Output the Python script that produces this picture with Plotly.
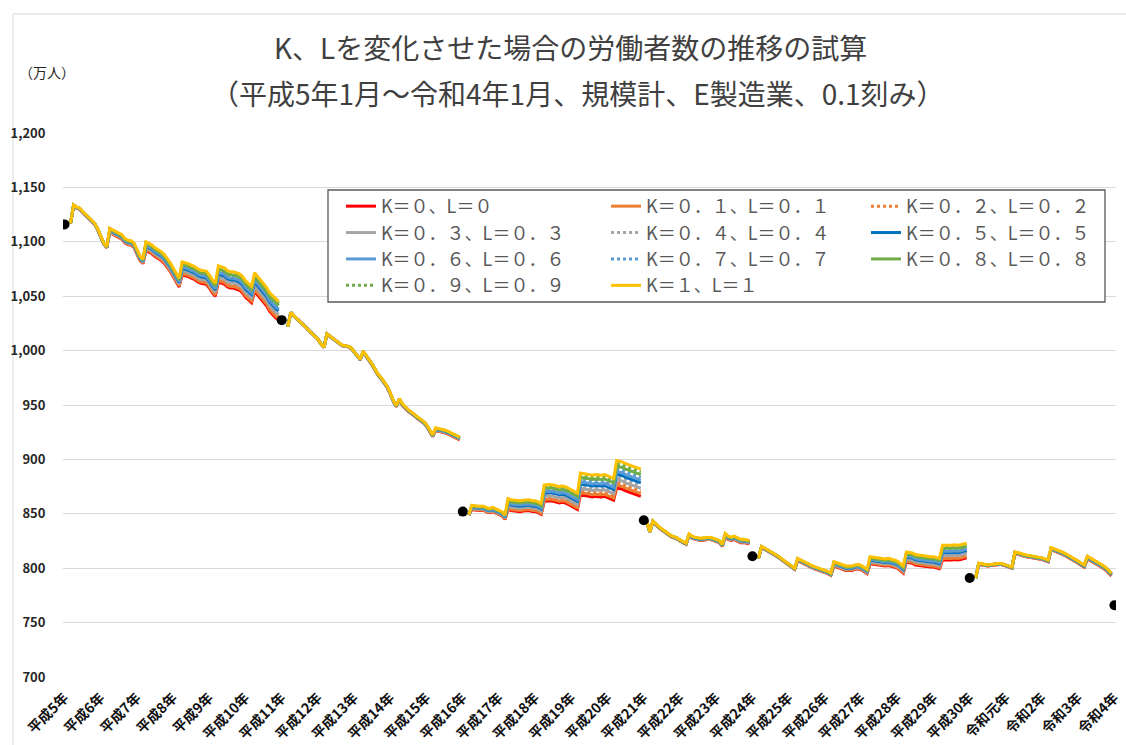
import plotly.graph_objects as go

# ---- categories -------------------------------------------------------------
year_labels = [f"平成{i}年" for i in range(5, 31)] + ["令和元年", "令和2年", "令和3年", "令和4年"]
month_labels = [f"{y}{mo}月" for y in year_labels[:-1] for mo in range(1, 13)] + ["令和4年1月"]

# ---- K=1, L=1 line (万人), one row per calendar year (Jan..Dec) ---------------
N = None
k1_line = [
    N, N, 1117, 1134, 1132, 1131, 1128, 1125, 1122, 1119, 1117, 1112,              # 平成5年
    1106, 1099, 1095.5, 1112.5, 1111, 1109.5, 1108, 1106.5, 1103, 1101.5, 1101, 1099,  # 平成6年
    1093, 1087, 1084, 1100, 1098.5, 1097, 1094.5, 1093, 1091, 1088.5, 1085, 1081,   # 平成7年
    1076, 1071, 1066.5, 1081.5, 1081, 1080, 1078.5, 1077.5, 1075.5, 1074, 1073.5, 1073,  # 平成8年
    1069.5, 1065, 1062, 1078, 1077, 1076, 1073.5, 1072.5, 1072.5, 1071.5, 1070.5, 1068,  # 平成9年
    1064, 1061.5, 1059, 1071.5, 1068, 1065, 1062, 1058, 1053, 1050, 1047, 1045,     # 平成10年
    N, N, 1022, 1035, 1032, 1029.5, 1027, 1024.5, 1021.5, 1018.5, 1016, 1013.5,     # 平成11年
    1010.5, 1006, 1003, 1015.5, 1013.5, 1011.5, 1009.5, 1007, 1005, 1004.5, 1004, 1002.5,  # 平成12年
    999, 995.5, 992, 999.5, 996, 991.5, 987.5, 983, 978, 975, 971, 967,             # 平成13年
    961, 954, 949.5, 956, 951, 948, 945.5, 943.5, 941, 939, 937, 935,               # 平成14年
    932, 927, 922.5, 929, 928.5, 928, 927, 926, 924.5, 923, 921.5, 920.5,           # 平成15年
    N, N, 849, 858, 857.5, 857, 857, 857, 855.5, 855, 856, 854.5,                   # 平成16年
    853, 852, 849, 864, 863, 862.5, 862, 862, 862.5, 863, 863, 862,                 # 平成17年
    862, 861, 859.5, 876.5, 877, 877, 876.5, 875.5, 875, 875.5, 875, 873.5,         # 平成18年
    872, 870.5, 869, 887.5, 887, 886.5, 885.5, 885.5, 886, 885.5, 885.5, 886,       # 平成19年
    885, 884, 882.5, 899, 898.5, 897.5, 896, 895, 894, 893, 892, 891,               # 平成20年
    N, 842.5, 833.5, 843.5, 840.5, 838, 836, 834, 831.5, 830, 829, 828,             # 平成21年
    826, 824.5, 823, 831.5, 829.5, 828.5, 828, 827.5, 828, 828.5, 828.5, 827.5,     # 平成22年
    826.5, 825.5, 822, 832, 829.5, 828.5, 829.5, 828, 826.5, 826.5, 826, 825.5,     # 平成23年
    N, N, 809, 820, 818.5, 817, 815.5, 814, 812, 810, 808, 806,                     # 平成24年
    804, 801.5, 800, 809, 807.5, 806, 804.5, 803, 802, 801, 800, 799,               # 平成25年
    798.5, 797, 795.5, 806, 805, 804, 803, 802, 802, 802, 803, 803.5,               # 平成26年
    802.5, 801, 799, 810.5, 810, 809.5, 809, 808.5, 808.5, 809, 808.5, 807.5,       # 平成27年
    806.5, 804.5, 802, 815, 814.5, 814, 812.5, 812, 812, 811.5, 811, 810.5,         # 平成28年
    810.5, 809.5, 809, 821, 821, 820.5, 821, 821.5, 821, 821.5, 822, 823,           # 平成29年
    N, N, 791, 804.5, 804, 803.5, 803, 803.5, 804, 804, 804.5, 804,                 # 平成30年
    803, 802, 801, 815, 814.5, 813.5, 812.5, 812, 811.5, 811.5, 811, 810.5,         # 令和元年
    809.5, 808.5, 807.5, 819, 818, 816.5, 815.5, 814.5, 813, 811.5, 810, 808.5,     # 令和2年
    806.5, 804.5, 803, 811, 809.5, 807.5, 806, 804.5, 803, 801, 798.5, 795.5,       # 令和3年
    N,                                                                              # 令和4年1月
]

# gap of the K=0,L=0 line below the K=1,L=1 line, per April-March year (from 平成5年4月)
fan_by_year = [1, 4, 8, 12, 15, 17,        # 平成5年度〜平成10年度
               0, 0.5, 1, 1.5, 2.5,        # 平成11年度〜平成15年度
               4, 10, 15, 20, 25,          # 平成16年度〜平成20年度
               1, 2, 3,                    # 平成21年度〜平成23年度
               1, 2, 4, 6.5, 9.5, 13.5,    # 平成24年度〜平成29年度
               1, 1.5, 2, 2.5]             # 平成30年度〜令和3年度
# months where every K,L line starts from the same value
restart_months = ["平成5年3月", "平成11年3月", "平成16年3月", "平成21年2月", "平成21年3月",
                  "平成24年3月", "平成30年3月"]

# benchmark points (black dots)
dot_months = ["平成5年1月", "平成11年1月", "平成16年1月", "平成21年1月", "平成24年1月",
              "平成30年1月", "令和4年1月"]
dot_values = [1116, 1028, 852, 844, 811, 791, 766]

# ---- series ------------------------------------------------------------------
k_values = [0.0, 0.1, 0.2, 0.3, 0.4, 0.5, 0.6, 0.7, 0.8, 0.9, 1.0]
series_names = ["K＝０、L＝０", "K＝０．１、L＝０．１", "K＝０．２、L＝０．２",
                "K＝０．３、L＝０．３", "K＝０．４、L＝０．４", "K＝０．５、L＝０．５",
                "K＝０．６、L＝０．６", "K＝０．７、L＝０．７", "K＝０．８、L＝０．８",
                "K＝０．９、L＝０．９", "K＝１、L＝１"]
series_colors = ["#FF0000", "#ED7D31", "#ED7D31", "#A5A5A5", "#A5A5A5", "#0070C0",
                 "#5B9BD5", "#5B9BD5", "#70AD47", "#70AD47", "#FFC000"]
series_dash = ["solid", "solid", "dot", "solid", "dot", "solid",
               "solid", "dot", "solid", "dot", "solid"]
legend_cols = ["legend", "legend2", "legend3"]

fig = go.Figure()

for idx, (k, name, col, dash) in enumerate(zip(k_values, series_names, series_colors, series_dash)):
    ys = []
    for i, (lab, v) in enumerate(zip(month_labels, k1_line)):
        if v is None:
            ys.append(None)
            continue
        gap = 0 if lab in restart_months else fan_by_year[(i - 3) // 12]
        ys.append(round(v - (1 - k) * gap, 2))
    fig.add_trace(go.Scatter(
        x=month_labels, y=ys, name=name, mode="lines",
        line=dict(color=col, width=3, dash=dash),
        connectgaps=False, legend=legend_cols[idx % 3], hoverinfo="skip",
    ))

fig.add_trace(go.Scatter(
    x=dot_months, y=dot_values, mode="markers",
    marker=dict(color="black", size=10), showlegend=False, hoverinfo="skip",
))

# ---- layout --------------------------------------------------------------------
jp = "Noto Sans CJK JP"
legend_common = dict(orientation="v", yanchor="top", xanchor="left", y=0.899,
                     bgcolor="rgba(0,0,0,0)", borderwidth=0,
                     font=dict(family=jp, size=18, color="#595959"), itemwidth=30)

fig.update_layout(
    width=1126, height=745,
    margin=dict(l=63, r=10, t=133, b=68),
    paper_bgcolor="white", plot_bgcolor="white",
    font=dict(family=jp, color="#404040"),
    legend=dict(x=0.2640, **legend_common),
    legend2=dict(x=0.5157, **legend_common),
    legend3=dict(x=0.7626, **legend_common),
    xaxis=dict(
        type="category", range=[-0.5, 348.5], automargin=False,
        tickmode="array", tickvals=[f"{y}1月" for y in year_labels], ticktext=year_labels,
        tickangle=-45, showgrid=False, zeroline=False, showline=False,
        ticks="outside", ticklen=6, tickcolor="rgba(0,0,0,0)",
        tickfont=dict(family=jp, size=14, color="#111111", weight="bold"),
    ),
    yaxis=dict(
        range=[700, 1200], automargin=False,
        tickmode="array", tickvals=[700, 750, 800, 850, 900, 950, 1000, 1050, 1100, 1150, 1200],
        tickformat=",", showgrid=True, gridcolor="#D9D9D9", gridwidth=1,
        zeroline=False, showline=False,
        ticks="outside", ticklen=14, tickcolor="rgba(0,0,0,0)",
        tickfont=dict(family=jp, size=13, color="#262626", weight="bold"),
    ),
    shapes=[
        dict(type="rect", xref="paper", yref="paper", x0=0.25166, x1=0.98955, y0=0.68934, y1=0.89522,
             fillcolor="white", line=dict(color="#595959", width=1.3), layer="above"),
        dict(type="rect", xref="paper", yref="paper", x0=-0.0475, x1=1.02, y0=-0.15, y1=1.2188,
             fillcolor="rgba(0,0,0,0)", line=dict(color="#D9D9D9", width=1), layer="below"),
    ],
    annotations=[
        dict(text="K、Lを変化させた場合の労働者数の推移の試算", xref="paper", yref="paper",
             x=0.4815, y=1.1581, xanchor="center", yanchor="middle", showarrow=False,
             font=dict(family=jp, size=28, color="#404040")),
        dict(text="（平成5年1月～令和4年1月、規模計、E製造業、0.1刻み）", xref="paper", yref="paper",
             x=0.489, y=1.0735, xanchor="center", yanchor="middle", showarrow=False,
             font=dict(family=jp, size=28, color="#404040")),
        dict(text="（万人）", xref="paper", yref="paper", x=-0.0152, y=1.112,
             xanchor="center", yanchor="middle", showarrow=False,
             font=dict(family=jp, size=14, color="#262626")),
    ],
)

fig.write_html("out.html", config={"displayModeBar": False},
               post_script="document.body.style.margin='0';")
